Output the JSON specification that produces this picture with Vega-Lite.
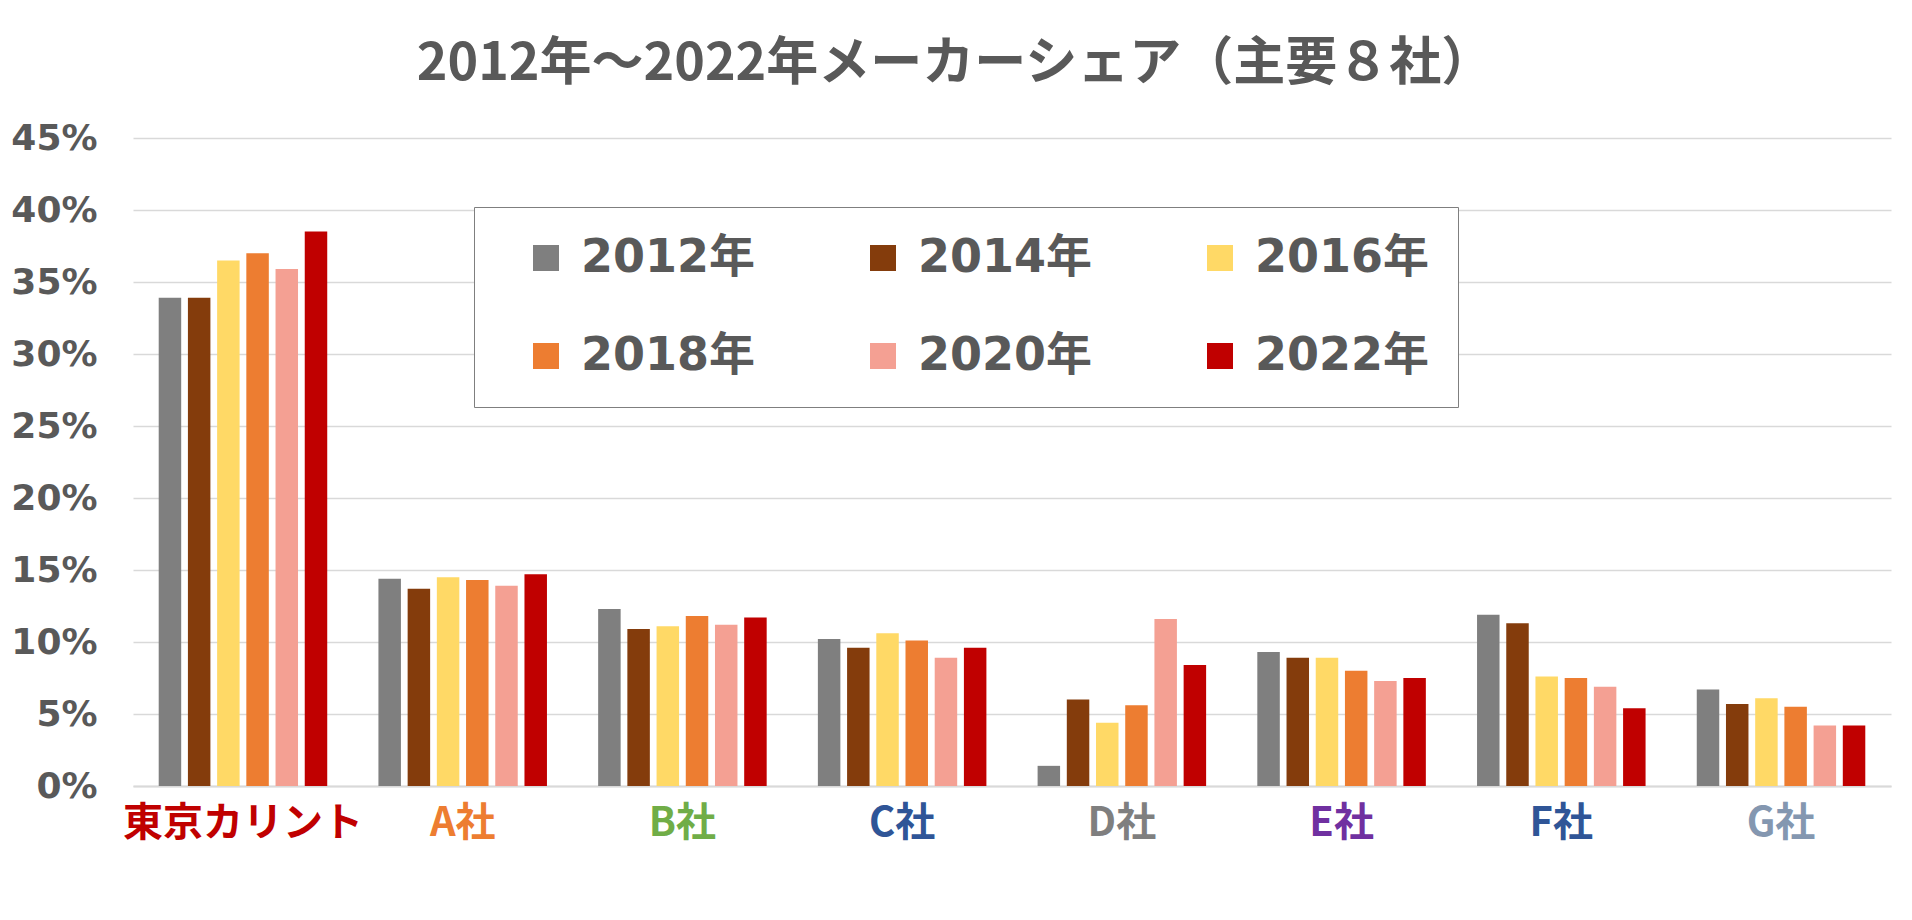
{
  "$schema": "https://vega.github.io/schema/vega-lite/v6.json",
  "autosize": {"type": "none"},
  "width": 1758,
  "height": 648,
  "padding": {"left": 133, "top": 138, "right": 21, "bottom": 134},
  "background": "#FFFFFF",
  "title": {
    "text": "2012年～2022年メーカーシェア（主要８社）",
    "font": "Noto Sans CJK JP",
    "fontSize": 52,
    "fontWeight": "bold",
    "color": "#595959",
    "anchor": "middle",
    "frame": "group",
    "dx": -57,
    "offset": 29
  },
  "data": {
    "values": [
      {"company": "東京カリント", "year": "2012年", "share": 33.9},
      {"company": "東京カリント", "year": "2014年", "share": 33.9},
      {"company": "東京カリント", "year": "2016年", "share": 36.5},
      {"company": "東京カリント", "year": "2018年", "share": 37.0},
      {"company": "東京カリント", "year": "2020年", "share": 35.9},
      {"company": "東京カリント", "year": "2022年", "share": 38.5},
      {"company": "A社", "year": "2012年", "share": 14.4},
      {"company": "A社", "year": "2014年", "share": 13.7},
      {"company": "A社", "year": "2016年", "share": 14.5},
      {"company": "A社", "year": "2018年", "share": 14.3},
      {"company": "A社", "year": "2020年", "share": 13.9},
      {"company": "A社", "year": "2022年", "share": 14.7},
      {"company": "B社", "year": "2012年", "share": 12.3},
      {"company": "B社", "year": "2014年", "share": 10.9},
      {"company": "B社", "year": "2016年", "share": 11.1},
      {"company": "B社", "year": "2018年", "share": 11.8},
      {"company": "B社", "year": "2020年", "share": 11.2},
      {"company": "B社", "year": "2022年", "share": 11.7},
      {"company": "C社", "year": "2012年", "share": 10.2},
      {"company": "C社", "year": "2014年", "share": 9.6},
      {"company": "C社", "year": "2016年", "share": 10.6},
      {"company": "C社", "year": "2018年", "share": 10.1},
      {"company": "C社", "year": "2020年", "share": 8.9},
      {"company": "C社", "year": "2022年", "share": 9.6},
      {"company": "D社", "year": "2012年", "share": 1.4},
      {"company": "D社", "year": "2014年", "share": 6.0},
      {"company": "D社", "year": "2016年", "share": 4.4},
      {"company": "D社", "year": "2018年", "share": 5.6},
      {"company": "D社", "year": "2020年", "share": 11.6},
      {"company": "D社", "year": "2022年", "share": 8.4},
      {"company": "E社", "year": "2012年", "share": 9.3},
      {"company": "E社", "year": "2014年", "share": 8.9},
      {"company": "E社", "year": "2016年", "share": 8.9},
      {"company": "E社", "year": "2018年", "share": 8.0},
      {"company": "E社", "year": "2020年", "share": 7.3},
      {"company": "E社", "year": "2022年", "share": 7.5},
      {"company": "F社", "year": "2012年", "share": 11.9},
      {"company": "F社", "year": "2014年", "share": 11.3},
      {"company": "F社", "year": "2016年", "share": 7.6},
      {"company": "F社", "year": "2018年", "share": 7.5},
      {"company": "F社", "year": "2020年", "share": 6.9},
      {"company": "F社", "year": "2022年", "share": 5.4},
      {"company": "G社", "year": "2012年", "share": 6.7},
      {"company": "G社", "year": "2014年", "share": 5.7},
      {"company": "G社", "year": "2016年", "share": 6.1},
      {"company": "G社", "year": "2018年", "share": 5.5},
      {"company": "G社", "year": "2020年", "share": 4.2},
      {"company": "G社", "year": "2022年", "share": 4.2}
    ]
  },
  "mark": {"type": "bar"},
  "encoding": {
    "x": {
      "field": "company",
      "type": "nominal",
      "sort": ["東京カリント", "A社", "B社", "C社", "D社", "E社", "F社", "G社"],
      "scale": {"paddingInner": 0.233, "paddingOuter": 0.117},
      "axis": {
        "title": null,
        "labelAngle": 0,
        "labelFont": "Noto Sans CJK JP",
        "labelFontSize": 40,
        "labelFontWeight": "bold",
        "labelPadding": 17,
        "labelLimit": 400,
        "ticks": false,
        "domainColor": "#D9D9D9",
        "domainWidth": 2,
        "labelColor": {
          "condition": [
            {"test": "datum.value === '東京カリント'", "value": "#C00000"},
            {"test": "datum.value === 'A社'", "value": "#ED7D31"},
            {"test": "datum.value === 'B社'", "value": "#70AD47"},
            {"test": "datum.value === 'C社'", "value": "#2F5597"},
            {"test": "datum.value === 'D社'", "value": "#7F7F7F"},
            {"test": "datum.value === 'E社'", "value": "#7030A0"},
            {"test": "datum.value === 'F社'", "value": "#2F5597"}
          ],
          "value": "#8497B0"
        }
      }
    },
    "xOffset": {
      "field": "year",
      "type": "nominal",
      "scale": {"paddingInner": 0.23, "paddingOuter": 0}
    },
    "y": {
      "field": "share",
      "type": "quantitative",
      "scale": {"domain": [0, 45], "nice": false},
      "axis": {
        "title": null,
        "values": [0, 5, 10, 15, 20, 25, 30, 35, 40, 45],
        "labelExpr": "datum.value + '%'",
        "labelFont": "DejaVu Sans",
        "labelFontSize": 36,
        "labelFontWeight": "bold",
        "labelColor": "#595959",
        "labelPadding": 36,
        "ticks": false,
        "domain": false,
        "grid": true,
        "gridColor": "#D9D9D9",
        "gridWidth": 1.5
      }
    },
    "color": {
      "field": "year",
      "type": "nominal",
      "scale": {
        "domain": ["2012年", "2014年", "2016年", "2018年", "2020年", "2022年"],
        "range": ["#7F7F7F", "#843C0C", "#FFD966", "#ED7D31", "#F4A093", "#C00000"]
      },
      "legend": {
        "title": null,
        "orient": "none",
        "legendX": 341,
        "legendY": 69,
        "columns": 3,
        "direction": "horizontal",
        "fillColor": "#FFFFFF",
        "strokeColor": "#7F7F7F",
        "padding": 28,
        "symbolOffset": 21,
        "symbolType": "square",
        "symbolSize": 676,
        "symbolStrokeWidth": 0,
        "labelFont": "DejaVu Sans, Noto Sans CJK JP",
        "labelFontSize": 46,
        "labelFontWeight": "bold",
        "labelColor": "#595959",
        "labelOffset": 12,
        "labelLimit": 400,
        "columnPadding": 83,
        "rowPadding": 52
      }
    }
  },
  "config": {
    "view": {"stroke": null}
  }
}
